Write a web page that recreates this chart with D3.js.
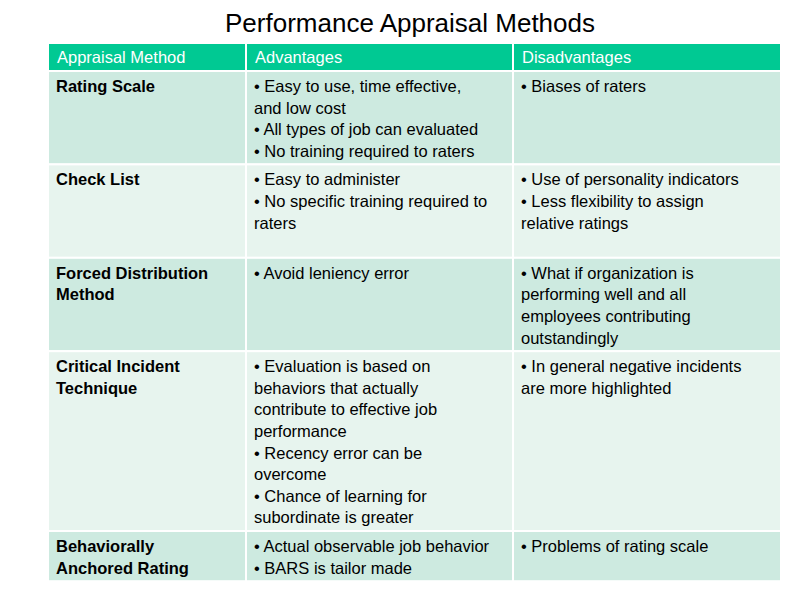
<!DOCTYPE html>
<html><head><meta charset="utf-8">
<script src="https://cdn.jsdelivr.net/npm/d3@7"></script>
<style>body{margin:0;background:#fff} text{font-family:"Liberation Sans", Arimo, Arial, sans-serif;}</style></head>
<body><svg id="c" width="794" height="595"></svg>
<script>
const title = "Performance Appraisal Methods";
const headers = ["Appraisal Method", "Advantages", "Disadvantages"];
const methods = [
  ["Rating Scale"],
  ["Check List"],
  ["Forced Distribution", "Method"],
  ["Critical Incident", "Technique"],
  ["Behaviorally", "Anchored Rating"]
];
const advantages = [
  ["• Easy to use, time effective,", "and low cost", "• All types of job can evaluated", "• No training required to raters"],
  ["• Easy to administer", "• No specific training required to", "raters"],
  ["• Avoid leniency error"],
  ["• Evaluation is based on", "behaviors that actually", "contribute to effective job", "performance", "• Recency error can be", "overcome", "• Chance of learning for", "subordinate is greater"],
  ["• Actual observable job behavior", "• BARS is tailor made"]
];
const disadvantages = [
  ["• Biases of raters"],
  ["• Use of personality indicators", "• Less flexibility to assign", "relative ratings"],
  ["• What if organization is", "performing well and all", "employees contributing", "outstandingly"],
  ["• In general negative incidents", "are more highlighted"],
  ["• Problems of rating scale"]
];
const rowLines = [4, 4, 4, 8, 2];

const svg = d3.select("#c");
const lh = 21.6, pad = 7;
const x = d3.scaleOrdinal().domain([0,1,2]).range([48, 246, 513]);
const colW = [198, 267, 268];
const heights = rowLines.map(n => n*lh + pad);
const tops = [71]; heights.forEach((h,i)=>tops.push(tops[i]+h));

svg.append("text").attr("x", 410).attr("y", 32).attr("text-anchor","middle")
  .attr("font-size", 26).attr("fill","#000").text(title);

headers.forEach((h,j)=>{
  svg.append("rect").attr("x", x(j)).attr("y", 43).attr("width", colW[j]).attr("height", 28)
    .attr("fill", "#00c993").attr("stroke","#fff").attr("stroke-width",2);
  svg.append("text").attr("x", x(j)+9).attr("y", 63).attr("font-size", 16.5).attr("fill","#fff").text(h);
});

const fills = ["#cdeae0", "#e7f4ee"];
methods.forEach((m,i)=>{
  const cols = [m, advantages[i], disadvantages[i]];
  cols.forEach((lines,j)=>{
    svg.append("rect").attr("x", x(j)).attr("y", tops[i]).attr("width", colW[j]).attr("height", heights[i])
      .attr("fill", fills[i%2]).attr("stroke","#fff").attr("stroke-width",2);
    const t = svg.append("text").attr("font-size", 16.5)
      .attr("fill","#000").attr("font-weight", j===0 ? "bold" : "normal");
    lines.forEach((l,k)=>{
      t.append("tspan").attr("x", x(j)+8).attr("y", tops[i]+21 + k*lh).text(l);
    });
  });
});
</script></body></html>
